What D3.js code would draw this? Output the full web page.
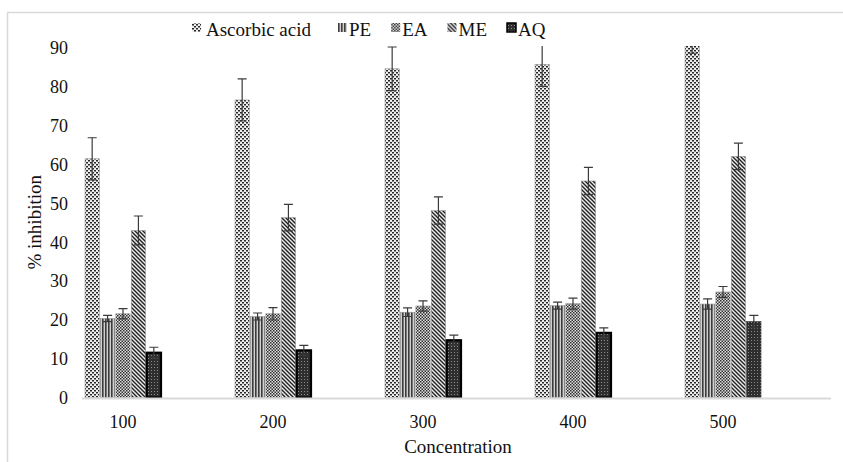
<!DOCTYPE html>
<html>
<head>
<meta charset="utf-8">
<script src="https://cdn.jsdelivr.net/npm/d3@7"></script>
<style>
  body { margin: 0; background: #fff; }
  svg { display: block; font-family: "Liberation Serif", "Times New Roman", serif; }
</style>
</head>
<body>
<svg id="chart" width="843" height="462"></svg>
<script>
// values
var categories = ["100", "200", "300", "400", "500"];
var seriesNames = ["Ascorbic acid", "PE", "EA", "ME", "AQ"];
var ascorbic = [61.3, 76.4, 84.4, 85.5, 94.0];
var ascorbicErr = [5.4, 5.4, 5.6, 5.6, 5.6];
var pe = [20.3, 20.8, 21.9, 23.6, 24.0];
var peErr = [0.8, 0.9, 1.1, 0.9, 1.3];
var ea = [21.5, 21.5, 23.5, 24.1, 27.1];
var eaErr = [1.3, 1.6, 1.3, 1.4, 1.4];
var me = [42.9, 46.2, 48.0, 55.6, 61.9];
var meErr = [3.7, 3.4, 3.5, 3.5, 3.4];
var aq = [11.5, 12.1, 14.7, 16.6, 19.5];
var aqErr = [1.4, 1.3, 1.3, 1.3, 1.6];
var yTicks = [0, 10, 20, 30, 40, 50, 60, 70, 80, 90];

var values = [ascorbic, pe, ea, me, aq];
var errors = [ascorbicErr, peErr, eaErr, meErr, aqErr];

var svg = d3.select("#chart");
var margin = { top: 47, right: 13, bottom: 64, left: 80 };
var width = 843, height = 462;

// outer frame (only top/left edges visible in the crop)
svg.append("rect")
    .attr("x", 7.5).attr("y", 12.5)
    .attr("width", 900).attr("height", 500)
    .attr("fill", "none").attr("stroke", "#d9d9d9").attr("stroke-width", 1.5);

var defs = svg.append("defs");

// fill patterns, one per series
var p0 = defs.append("pattern").attr("id", "pat0").attr("patternUnits", "userSpaceOnUse")
    .attr("width", 4).attr("height", 4);
p0.append("rect").attr("width", 4).attr("height", 4).attr("fill", "#eeeeee");
p0.append("rect").attr("x", 0).attr("y", 0).attr("width", 2).attr("height", 1.5).attr("fill", "#262626");
p0.append("rect").attr("x", 2).attr("y", 2).attr("width", 2).attr("height", 1.5).attr("fill", "#262626");

var p1 = defs.append("pattern").attr("id", "pat1").attr("patternUnits", "userSpaceOnUse")
    .attr("width", 3).attr("height", 3);
p1.append("rect").attr("width", 3).attr("height", 3).attr("fill", "#d0d0d0");
p1.append("rect").attr("x", 0).attr("width", 1.6).attr("height", 3).attr("fill", "#3c3c3c");

var p2 = defs.append("pattern").attr("id", "pat2").attr("patternUnits", "userSpaceOnUse")
    .attr("width", 3).attr("height", 3);
p2.append("rect").attr("width", 3).attr("height", 3).attr("fill", "#e0e0e0");
p2.append("rect").attr("width", 1.5).attr("height", 1.5).attr("fill", "#2e2e2e");
p2.append("rect").attr("x", 1.5).attr("y", 1.5).attr("width", 1.5).attr("height", 1.5).attr("fill", "#2e2e2e");

var p3 = defs.append("pattern").attr("id", "pat3").attr("patternUnits", "userSpaceOnUse")
    .attr("width", 4).attr("height", 4);
p3.append("rect").attr("width", 4).attr("height", 4).attr("fill", "#ececec");
p3.append("path").attr("d", "M-1,-1L5,5M-1,3L1,5M3,-1L5,1")
    .attr("stroke", "#222").attr("stroke-width", 1.4);

var p4 = defs.append("pattern").attr("id", "pat4").attr("patternUnits", "userSpaceOnUse")
    .attr("width", 3).attr("height", 3);
p4.append("rect").attr("width", 3).attr("height", 3).attr("fill", "#2e2e2e");
p4.append("rect").attr("x", 1).attr("y", 1).attr("width", 1).attr("height", 1).attr("fill", "#8a8a8a");

var x = d3.scaleBand()
    .domain(categories)
    .range([margin.left, width - margin.right]);

var xs = d3.scaleBand()
    .domain(seriesNames)
    .range([5, 81])
    .paddingInner(0.07);

var y = d3.scaleLinear()
    .domain([0, 90])
    .range([height - margin.bottom - 0.5, margin.top]);

defs.append("clipPath").attr("id", "plotClip")
    .append("rect")
    .attr("x", margin.left).attr("y", y(90) - 1)
    .attr("width", width - margin.left - margin.right)
    .attr("height", y(0) - y(90) + 3);

var rows = [];
categories.forEach(function (c, ci) {
    seriesNames.forEach(function (s, si) {
        rows.push({ cat: c, series: s, si: si, value: values[si][ci], err: errors[si][ci], last: ci === categories.length - 1 });
    });
});

var plot = svg.append("g").attr("clip-path", "url(#plotClip)");

plot.selectAll("rect.bar")
    .data(rows)
    .join("rect")
    .attr("class", "bar")
    .attr("x", function (d) { return x(d.cat) + xs(d.series); })
    .attr("width", xs.bandwidth())
    .attr("y", function (d) { return y(d.value); })
    .attr("height", function (d) { return y(0) - y(d.value); })
    .attr("fill", function (d) { return "url(#pat" + d.si + ")"; })
    .attr("stroke", function (d) { return d.si === 4 ? (d.last ? "#333" : "#000") : "#9a9a9a"; })
    .attr("stroke-width", function (d) { return d.si === 4 && !d.last ? 2.2 : 0.6; });

// error bars
var eb = plot.selectAll("g.err")
    .data(rows)
    .join("g")
    .attr("class", "err")
    .attr("stroke", "#3a3a3a")
    .attr("stroke-width", 1.2);

eb.append("line")
    .attr("x1", function (d) { return x(d.cat) + xs(d.series) + xs.bandwidth() / 2; })
    .attr("x2", function (d) { return x(d.cat) + xs(d.series) + xs.bandwidth() / 2; })
    .attr("y1", function (d) { return y(d.value - d.err); })
    .attr("y2", function (d) { return y(d.value + d.err); });

eb.selectAll("line.cap")
    .data(function (d) { return [d.value - d.err, d.value + d.err].map(function (v) { return { d: d, v: v }; }); })
    .join("line")
    .attr("class", "cap")
    .attr("x1", function (e) { return x(e.d.cat) + xs(e.d.series) + xs.bandwidth() / 2 - 4.5; })
    .attr("x2", function (e) { return x(e.d.cat) + xs(e.d.series) + xs.bandwidth() / 2 + 4.5; })
    .attr("y1", function (e) { return y(e.v); })
    .attr("y2", function (e) { return y(e.v); });

// x axis line
svg.append("line")
    .attr("x1", margin.left + 2).attr("x2", width - margin.right + 1)
    .attr("y1", y(0) + 1).attr("y2", y(0) + 1)
    .attr("stroke", "#d9d9d9").attr("stroke-width", 2);

// category labels, centred on each bar group
svg.append("g")
    .selectAll("text")
    .data(categories)
    .join("text")
    .attr("x", function (c) { return x(c) + (xs.range()[0] + xs.range()[1]) / 2; })
    .attr("y", 428)
    .attr("text-anchor", "middle")
    .attr("font-size", "18px")
    .attr("fill", "#111")
    .text(function (c) { return c; });

// y axis labels
var yAxis = d3.axisLeft(y).tickValues(yTicks).tickSize(0).tickPadding(0);
svg.append("g")
    .attr("transform", "translate(68,0)")
    .call(yAxis)
    .call(function (g) { g.select(".domain").remove(); })
    .call(function (g) {
        g.selectAll("text")
            .attr("font-size", "18px")
            .attr("font-family", "'Liberation Serif', serif")
            .attr("fill", "#111")
            .attr("dy", "0.35em");
    });

svg.append("text")
    .attr("transform", "translate(41," + ((y(0) + y(90)) / 2) + ") rotate(-90)")
    .attr("text-anchor", "middle")
    .attr("font-size", "19px")
    .attr("fill", "#111")
    .text("% inhibition");

svg.append("text")
    .attr("x", (margin.left + width - margin.right) / 2 + 3)
    .attr("y", 453)
    .attr("text-anchor", "middle")
    .attr("font-size", "19px")
    .attr("fill", "#111")
    .text("Concentration");

// legend
var legend = svg.append("g");
var lx = 192;
seriesNames.forEach(function (s, i) {
    var item = legend.append("g").attr("transform", "translate(" + lx + ",0)");
    item.append("rect")
        .attr("x", 0).attr("y", 23)
        .attr("width", 9).attr("height", 9)
        .attr("fill", "url(#pat" + i + ")")
        .attr("stroke", i === 4 ? "#000" : "none")
        .attr("stroke-width", 1.5);
    var t = item.append("text")
        .attr("x", i === 0 ? 14 : 11)
        .attr("y", 36)
        .attr("font-size", "19px")
        .attr("fill", "#111")
        .text(s);
    lx += (i === 0 ? 14 : 11) + t.node().getComputedTextLength() + (i === 0 ? 27 : 20);
});
</script>
</body>
</html>
